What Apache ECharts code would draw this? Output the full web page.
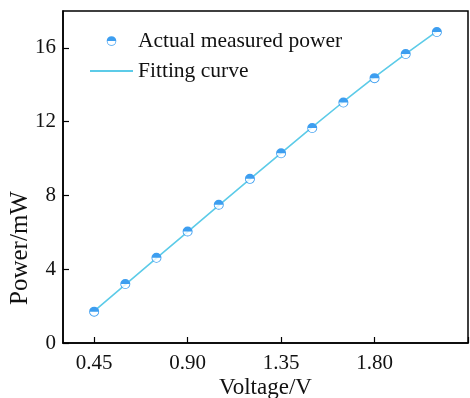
<!DOCTYPE html>
<html>
<head>
<meta charset="utf-8">
<script src="https://cdn.jsdelivr.net/npm/echarts@6/dist/echarts.min.js"></script>
<style>
  html, body { margin: 0; padding: 0; background: #fff; }
  #chart { width: 470px; height: 398px; }
</style>
</head>
<body>
<div id="chart"></div>
<script>
// ---- data ----
const voltage = [0.45, 0.60, 0.75, 0.90, 1.05, 1.20, 1.35, 1.50, 1.65, 1.80, 1.95, 2.10];
const measuredPower = [1.70, 3.20, 4.62, 6.05, 7.50, 8.90, 10.29, 11.66, 13.04, 14.36, 15.67, 16.86];
const fitPower = [1.73, 3.17, 4.60, 6.03, 7.46, 8.88, 10.30, 11.70, 13.08, 14.42, 15.68, 16.90];
const xTickValues = [0.45, 0.90, 1.35, 1.80, 2.25];
const xLabelValues = [0.45, 0.90, 1.35, 1.80];
const yTickValues = [0, 4, 8, 12, 16];
const seriesNames = ['Actual measured power', 'Fitting curve'];

const FONT = 'Liberation Serif';
const TXT = '#111';
const halfCircle = 'path://M1.6 10 A8.4 8.4 0 0 1 18.4 10 Z ' +
  'M0 10 A10 10 0 1 1 20 10 A10 10 0 1 1 0 10 Z ' +
  'M1.6 10 A8.4 8.4 0 1 0 18.4 10 A8.4 8.4 0 1 0 1.6 10 Z';

const pairs = (xs, ys) => xs.map((x, i) => [x, ys[i]]);

const chart = echarts.init(document.getElementById('chart'), null, { renderer: 'canvas' });
chart.setOption({
  animation: false,
  backgroundColor: '#fff',
  grid: {
    left: 63, right: 2, top: 11, bottom: 55,
    outerBoundsMode: 'none', containLabel: false,
    show: true, borderColor: '#000', borderWidth: 1.5, backgroundColor: 'transparent'
  },
  legend: {
    data: [
      { name: seriesNames[0] },
      { name: seriesNames[1], itemStyle: { opacity: 0 } }
    ],
    orient: 'vertical',
    left: 89, top: 30, padding: 0,
    itemWidth: 43, itemHeight: 12, itemGap: 8,
    textStyle: { fontFamily: FONT, fontSize: 21.5, color: TXT }
  },
  xAxis: {
    type: 'value',
    min: 0.3, max: 2.25,
    name: 'Voltage/V',
    nameLocation: 'middle',
    nameGap: 33,
    nameMoveOverlap: false,
    nameTextStyle: { fontFamily: FONT, fontSize: 23, color: TXT },
    axisLine: { lineStyle: { color: '#000', width: 1.5 } },
    axisTick: { inside: true, length: 6, customValues: xTickValues, lineStyle: { color: '#000', width: 1.2 } },
    axisLabel: {
      customValues: xLabelValues,
      formatter: v => v.toFixed(2),
      fontFamily: FONT, fontSize: 21, color: TXT, margin: 10
    },
    splitLine: { show: false }
  },
  yAxis: {
    type: 'value',
    min: 0, max: 18,
    name: 'Power/mW',
    nameLocation: 'middle',
    nameGap: 30,
    nameMoveOverlap: false,
    nameTextStyle: { fontFamily: FONT, fontSize: 25, color: TXT, padding: [0, 142, 0, 0] },
    axisLine: { show: true, lineStyle: { color: '#000', width: 1.5 } },
    axisTick: { show: true, inside: true, length: 6, customValues: yTickValues, lineStyle: { color: '#000', width: 1.2 } },
    axisLabel: {
      customValues: yTickValues,
      fontFamily: FONT, fontSize: 21, color: TXT, margin: 7
    },
    splitLine: { show: false }
  },
  series: [
    {
      name: seriesNames[1],
      type: 'line',
      data: pairs(voltage, fitPower),
      symbol: 'none',
      z: 2,
      lineStyle: { color: '#5ccbe8', width: 1.6 },
      itemStyle: { color: '#5ccbe8' }
    },
    {
      name: '_bg',
      type: 'scatter',
      data: pairs(voltage, measuredPower),
      symbol: 'circle',
      symbolSize: 9,
      silent: true,
      z: 3,
      itemStyle: { color: '#fff' }
    },
    {
      name: seriesNames[0],
      type: 'line',
      data: pairs(voltage, measuredPower),
      symbol: halfCircle,
      symbolSize: 10,
      showSymbol: true,
      z: 4,
      lineStyle: { width: 0, opacity: 0 },
      itemStyle: { color: '#3d9ef0' }
    }
  ]
});
</script>
</body>
</html>
